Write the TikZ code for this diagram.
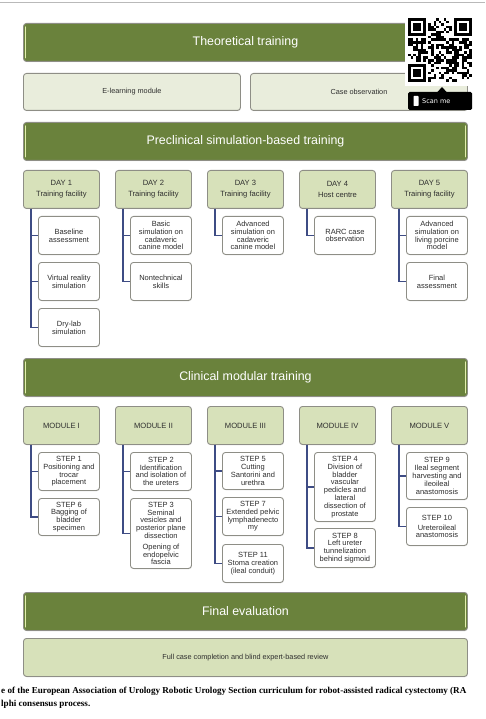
\documentclass[tikz,border=0pt]{standalone}
\usepackage{fontspec}
\setmainfont{Liberation Sans}
\newfontfamily\capfont{Liberation Serif}
\newfontfamily\tagfont{DejaVu Sans}
\usetikzlibrary{shadows}

\definecolor{barGreen}{HTML}{6A823C}
\definecolor{headGreen}{HTML}{D7E1BA}
\definecolor{paleGreen}{HTML}{E9EDDC}
\definecolor{glintGreen}{HTML}{E2EEAE}
\definecolor{frameGrey}{HTML}{8E8E86}
\definecolor{linkBlue}{HTML}{3E4C84}
\definecolor{inkGrey}{HTML}{2E2E2E}

\tikzset{
  box/.style={draw=frameGrey, line width=0.9pt, rounded corners=3pt, anchor=north west,
    inner sep=0pt, align=center, text=inkGrey,
    drop shadow={opacity=0.2, shadow xshift=0.5pt, shadow yshift=-0.8pt}},
  bar/.style={box, fill=barGreen, text=white, minimum width=444pt, minimum height=38pt,
    font=\fontsize{12.4}{14}\selectfont},
  band/.style={box, minimum height=37pt, font=\fontsize{7.3}{9}\selectfont},
  head/.style={box, fill=headGreen, minimum width=76pt, minimum height=38pt,
    font=\fontsize{7.6}{10.8}\selectfont},
  leaf/.style={box, fill=white, minimum width=61pt, font=\fontsize{7.5}{7.8}\selectfont},
  link/.style={draw=linkBlue, line width=1.1pt},
  glint/.style={draw=glintGreen, line width=1.2pt, line cap=round}
}

\begin{document}
\begin{tikzpicture}[x=1pt, y=-1pt]
\useasboundingbox (0,0) rectangle (485,719);

\draw[gray!55, line width=0.8pt] (0,2.3) -- (485,2.3);

% stage bars
\node[bar] (theo)  at (23,23)  {Theoretical training};
\node[bar] (precl) at (23,122) {Preclinical simulation-based training};
\node[bar] (clin)  at (23,358) {Clinical modular training};
\node[bar] (final) at (23,592) {Final evaluation};
\foreach \b in {theo,precl,clin,final}{
  \draw[glint] ([xshift=2.3pt,yshift=-4pt]\b.north west) -- ([xshift=2.3pt,yshift=4pt]\b.south west);
  \draw[glint] ([xshift=-2.3pt,yshift=-4pt]\b.north east) -- ([xshift=-2.3pt,yshift=4pt]\b.south east);
}

\node[band, fill=paleGreen, minimum width=217pt] (elearn)  at (23,73)  {E-learning module};
\node[band, fill=paleGreen, minimum width=217pt] (caseobs) at (250,73) {Case observation};
\node[band, fill=headGreen, minimum width=444pt, minimum height=38pt] (fullcase) at (23,638)
  {Full case completion and blind expert-based review};

% preclinical days
\node[head] (d1) at (23,170)  {DAY 1\\Training facility};
\node[head] (d2) at (115,170) {DAY 2\\Training facility};
\node[head] (d3) at (207,170) {DAY 3\\Training facility};
\node[head] (d4) at (299,170) {DAY 4\\Host centre};
\node[head] (d5) at (391,170) {DAY 5\\Training facility};

\node[leaf, minimum height=38pt] (d1a) at (38,216)  {Baseline\\assessment};
\node[leaf, minimum height=38pt] (d1b) at (38,262)  {Virtual reality\\simulation};
\node[leaf, minimum height=38pt] (d1c) at (38,308)  {Dry-lab\\simulation};
\node[leaf, minimum height=38pt] (d2a) at (130,216) {Basic\\simulation on\\cadaveric\\canine model};
\node[leaf, minimum height=38pt] (d2b) at (130,262) {Nontechnical\\skills};
\node[leaf, minimum height=38pt] (d3a) at (222,216) {Advanced\\simulation on\\cadaveric\\canine model};
\node[leaf, minimum height=38pt] (d4a) at (314,216) {RARC case\\observation};
\node[leaf, minimum height=38pt] (d5a) at (406,216) {Advanced\\simulation on\\living porcine\\model};
\node[leaf, minimum height=38pt] (d5b) at (406,262) {Final\\assessment};

% clinical modules
\node[head] (m1) at (23,406)  {MODULE I};
\node[head] (m2) at (115,406) {MODULE II};
\node[head] (m3) at (207,406) {MODULE III};
\node[head] (m4) at (299,406) {MODULE IV};
\node[head] (m5) at (391,406) {MODULE V};

\node[leaf, minimum height=38pt] (m1a) at (38,452)  {STEP 1\\Positioning and\\trocar\\placement};
\node[leaf, minimum height=37pt] (m1b) at (38,498)  {STEP 6\\Bagging of\\bladder\\specimen};
\node[leaf, minimum height=38pt] (m2a) at (130,452) {STEP 2\\Identification\\and isolation of\\the ureters};
\node[leaf, minimum height=70pt] (m2b) at (130,498) {STEP 3\\Seminal\\vesicles and\\posterior plane\\dissection\\[3pt]Opening of\\endopelvic\\fascia};
\node[leaf, minimum height=37pt] (m3a) at (222,452) {STEP 5\\Cutting\\Santorini and\\urethra};
\node[leaf, minimum height=38pt] (m3b) at (222,497) {STEP 7\\Extended pelvic\\lymphadenecto\\my};
\node[leaf, minimum height=38pt] (m3c) at (222,544) {STEP 11\\Stoma creation\\(ileal conduit)};
\node[leaf, minimum height=69pt] (m4a) at (314,452) {STEP 4\\Division of\\bladder\\vascular\\pedicles and\\lateral\\dissection of\\prostate};
\node[leaf, minimum height=39pt] (m4b) at (314,528) {STEP 8\\Left ureter\\tunnelization\\behind sigmoid};
\node[leaf, minimum height=47pt] (m5a) at (406,452) {STEP 9\\Ileal segment\\harvesting and\\ileoileal\\anastomosis};
\node[leaf, minimum height=38pt] (m5b) at (406,507) {STEP 10\\[2pt]Ureteroileal\\anastomosis};

\foreach \p/\c in {d1/d1a,d1/d1b,d1/d1c,d2/d2a,d2/d2b,d3/d3a,d4/d4a,d5/d5a,d5/d5b,
    m1/m1a,m1/m1b,m2/m2a,m2/m2b,m3/m3a,m3/m3b,m3/m3c,m4/m4a,m4/m4b,m5/m5a,m5/m5b}
  \draw[link] ([xshift=8pt]\p.south west) |- (\c.west);

% qr code and tag
\fill[white] (405,15) rectangle (473,86);
\begin{scope}[shift={(408,18)}, x=2.56pt, y=-2.56pt]
  \pgfmathsetseed{11}
  \foreach \i in {0,...,24}{
    \foreach \j in {0,...,24}{
      \pgfmathtruncatemacro\qrzone{(((\i<8)&&(\j<8))||((\i>16)&&(\j<8))||((\i<8)&&(\j>16)))?0:1}
      \ifnum\qrzone=1
        \pgfmathrandominteger{\qrbit}{0}{1}
        \ifnum\qrbit=1 \fill (\i,\j) rectangle ++(1,1); \fi
      \fi
    }
  }
  \foreach \ex/\ey in {0/0,18/0,0/18}{
    \fill (\ex,\ey) rectangle ++(7,7);
    \fill[white] (\ex+1,\ey+1) rectangle ++(5,5);
    \fill (\ex+2,\ey+2) rectangle ++(3,3);
  }
\end{scope}
\fill[black, rounded corners=1.5pt] (408,92) rectangle (472,110);
\fill[black] (437,92.5) -- (442,87) -- (447,92.5) -- cycle;
\fill[white, rounded corners=0.6pt] (413.5,96) rectangle (418.5,106);
\node[anchor=west, text=white, inner sep=0pt, font=\tagfont\fontsize{6.5}{7}\selectfont] (scan) at (422,101) {Scan me};

% caption
\node[anchor=base west, inner sep=0pt, font=\capfont\bfseries\fontsize{9.1}{10}\selectfont] (cap1) at (1,693)
  {e of the European Association of Urology Robotic Urology Section curriculum for robot-assisted radical cystectomy (RA};
\node[anchor=base west, inner sep=0pt, font=\capfont\bfseries\fontsize{9.1}{10}\selectfont] (cap2) at (1,706)
  {lphi consensus process.};
\end{tikzpicture}
\end{document}
